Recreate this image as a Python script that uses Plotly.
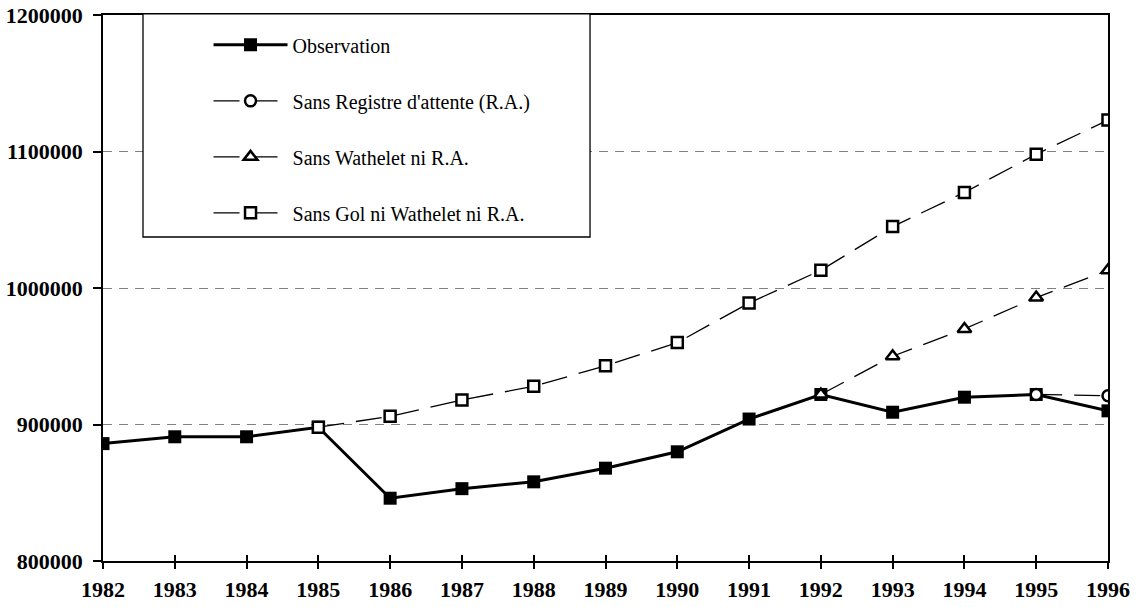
import plotly.graph_objects as go

years = list(range(1982, 1997))
observation = [886000, 891000, 891000, 898000, 846000, 853000, 858000, 868000,
               880000, 904000, 922000, 909000, 920000, 922000, 910000]
sans_ra = [None] * 13 + [922000, 921000]
sans_wathelet = [None] * 10 + [922000, 950000, 970000, 993000, 1013000]
sans_gol = [None] * 3 + [898000, 906000, 918000, 928000, 943000, 960000, 989000,
                         1013000, 1045000, 1070000, 1098000, 1123000]
names = ["Observation", "Sans Registre d'attente (R.A.)",
         "Sans Wathelet ni R.A.", "Sans Gol ni Wathelet ni R.A."]
y_ticks = [800000, 900000, 1000000, 1100000, 1200000]

FONT = "Liberation Serif"
fig = go.Figure()

fig.add_trace(go.Scatter(
    x=years, y=observation, name=names[0], mode="lines+markers",
    line=dict(color="black", width=3),
    marker=dict(symbol="square", size=13, color="black"),
    legendgroup="g1"))
fig.add_trace(go.Scatter(
    x=years, y=sans_ra, name=names[1], mode="lines+markers",
    line=dict(color="black", width=1.3, dash="26px,12px"),
    marker=dict(symbol="circle", size=11, color="white",
                line=dict(color="black", width=2.5)),
    legendgroup="g2"))
fig.add_trace(go.Scatter(
    x=years, y=sans_wathelet, name=names[2], mode="lines+markers",
    line=dict(color="black", width=1.3, dash="26px,12px"),
    marker=dict(symbol="triangle-up", size=12, color="white",
                line=dict(color="black", width=2.5)),
    legendgroup="g3"))
fig.add_trace(go.Scatter(
    x=years, y=sans_gol, name=names[3], mode="lines+markers",
    line=dict(color="black", width=1.3, dash="26px,12px"),
    marker=dict(symbol="square", size=11, color="white",
                line=dict(color="black", width=2.5)),
    legendgroup="g4"))

# invisible trace to drive a second x axis giving cross-shaped ticks
fig.add_trace(go.Scatter(x=years, y=observation, xaxis="x2", mode="none",
                         showlegend=False, hoverinfo="skip"))

# legend box
fig.add_shape(type="rect", xref="paper", yref="paper",
              x0=0.0398, x1=0.4846, y0=0.5934, y1=1.002,
              line=dict(color="black", width=1.3), fillcolor="white",
              layer="above")

fig.update_layout(
    width=1136, height=607,
    margin=dict(l=103, r=28, t=15, b=46, autoexpand=False),
    paper_bgcolor="white", plot_bgcolor="white",
    font=dict(family=FONT, color="black", size=21),
    showlegend=True,
    legend=dict(x=0.105, y=0.981, xanchor="left", yanchor="top",
                bgcolor="rgba(0,0,0,0)", borderwidth=0,
                font=dict(family=FONT, size=20, color="black"),
                tracegroupgap=27, itemwidth=74),
    xaxis=dict(range=[1982, 1996], tickmode="array", tickvals=years,
               ticktext=[f"<b>{y}</b>" for y in years], automargin=False,
               showgrid=False, zeroline=False,
               showline=True, linecolor="black", linewidth=1.5, mirror=True,
               ticks="outside", ticklen=6, tickwidth=1.5, tickcolor="black",
               ticklabelstandoff=2,
               tickfont=dict(family=FONT, size=22, color="black")),
    xaxis2=dict(range=[1982, 1996], overlaying="x", anchor="y", side="bottom",
                tickmode="array", tickvals=years, showticklabels=False,
                showgrid=False, zeroline=False, showline=False, automargin=False,
                ticks="inside", ticklen=6, tickwidth=1.5, tickcolor="black"),
    yaxis=dict(range=[800000, 1200000], tickmode="array", tickvals=y_ticks,
               ticktext=[f"<b>{v}</b>" for v in y_ticks], automargin=False,
               showgrid=True, gridcolor="#808080", gridwidth=1.3,
               griddash="9px,7px", zeroline=False,
               showline=True, linecolor="black", linewidth=1.5, mirror=True,
               ticks="outside", ticklen=8, tickwidth=1.5, tickcolor="black",
               ticklabelstandoff=6,
               tickfont=dict(family=FONT, size=22, color="black")),
)

fig.write_html(
    "out.html",
    config={"displayModeBar": False},
    post_script="document.body.style.margin='0px';"
                "document.body.style.overflow='hidden';",
)
